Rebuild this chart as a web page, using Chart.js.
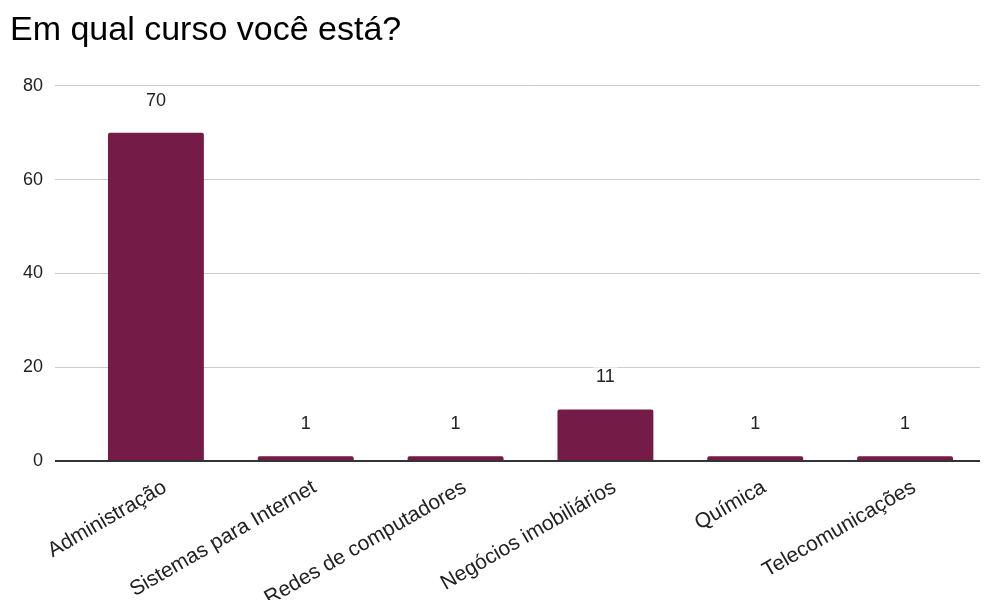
<!DOCTYPE html>
<html>
<head>
<meta charset="utf-8">
<script src="https://cdn.jsdelivr.net/npm/chart.js@4/dist/chart.umd.min.js"></script>
<style>
  html, body { margin: 0; padding: 0; background: #fff; }
  #wrap { width: 992px; height: 600px; }
</style>
</head>
<body>
<div id="wrap"><canvas id="c" width="992" height="600"></canvas></div>
<script>
const chartTitle = 'Em qual curso você está?';
const courses = ['Administração', 'Sistemas para Internet', 'Redes de computadores', 'Negócios imobiliários', 'Química', 'Telecomunicações'];
const students = [70, 1, 1, 11, 1, 1];
const yTicks = [0, 20, 40, 60, 80];

const FONT = "'Liberation Sans', Arial, sans-serif";
const BAR = '#741b47';

// value labels above each bar, on a white backing so gridlines break around them
const valueLabels = {
  id: 'valueLabels',
  afterDatasetsDraw(chart) {
    const ctx = chart.ctx;
    const meta = chart.getDatasetMeta(0);
    ctx.save();
    ctx.font = '18px ' + FONT;
    ctx.textAlign = 'center';
    ctx.textBaseline = 'alphabetic';
    meta.data.forEach((bar, i) => {
      const txt = String(students[i]);
      const y = bar.y - 27;
      const w = ctx.measureText(txt).width;
      ctx.fillStyle = '#fff';
      ctx.fillRect(bar.x - w / 2 - 3, y - 15, w + 6, 18);
      ctx.fillStyle = '#222';
      ctx.fillText(txt, bar.x, y);
    });
    ctx.restore();
  }
};

const lineColor = c => (c.tick && c.tick.value === 0) ? '#333' : '#cccccc';
const lineWidth = c => (c.tick && c.tick.value === 0) ? 2 : 1;

new Chart(document.getElementById('c'), {
  type: 'bar',
  data: {
    labels: courses,
    datasets: [{
      data: students,
      backgroundColor: BAR,
      borderRadius: { topLeft: 2, topRight: 2 },
      borderSkipped: 'bottom',
      barPercentage: 0.64,
      categoryPercentage: 1
    }]
  },
  options: {
    responsive: false,
    animation: false,
    layout: { padding: { left: 10, right: 12, top: 0, bottom: 0 } },
    plugins: {
      legend: { display: false },
      tooltip: { enabled: false },
      title: {
        display: true,
        text: chartTitle,
        align: 'start',
        color: '#000',
        font: { family: FONT, size: 34, weight: 'normal' },
        padding: { top: 10, bottom: 35 }
      }
    },
    scales: {
      x: {
        grid: { display: false },
        border: { display: false },
        ticks: {
          color: '#222',
          font: { family: FONT, size: 21 },
          maxRotation: 30,
          minRotation: 30,
          padding: 6,
          labelOffset: 9,
          autoSkip: false
        },
        afterFit(scale) { scale.height = 139; }
      },
      y: {
        min: 0,
        max: 80,
        afterBuildTicks(scale) { scale.ticks = yTicks.map(v => ({ value: v })); },
        grid: {
          color: lineColor,
          lineWidth: lineWidth,
          tickColor: lineColor,
          tickLength: 26,
          drawTicks: true
        },
        border: { display: false },
        ticks: {
          color: '#222',
          font: { family: FONT, size: 18 },
          padding: 12
        },
        afterFit(scale) { scale.width = 71; }
      }
    }
  },
  plugins: [valueLabels]
});
</script>
</body>
</html>
